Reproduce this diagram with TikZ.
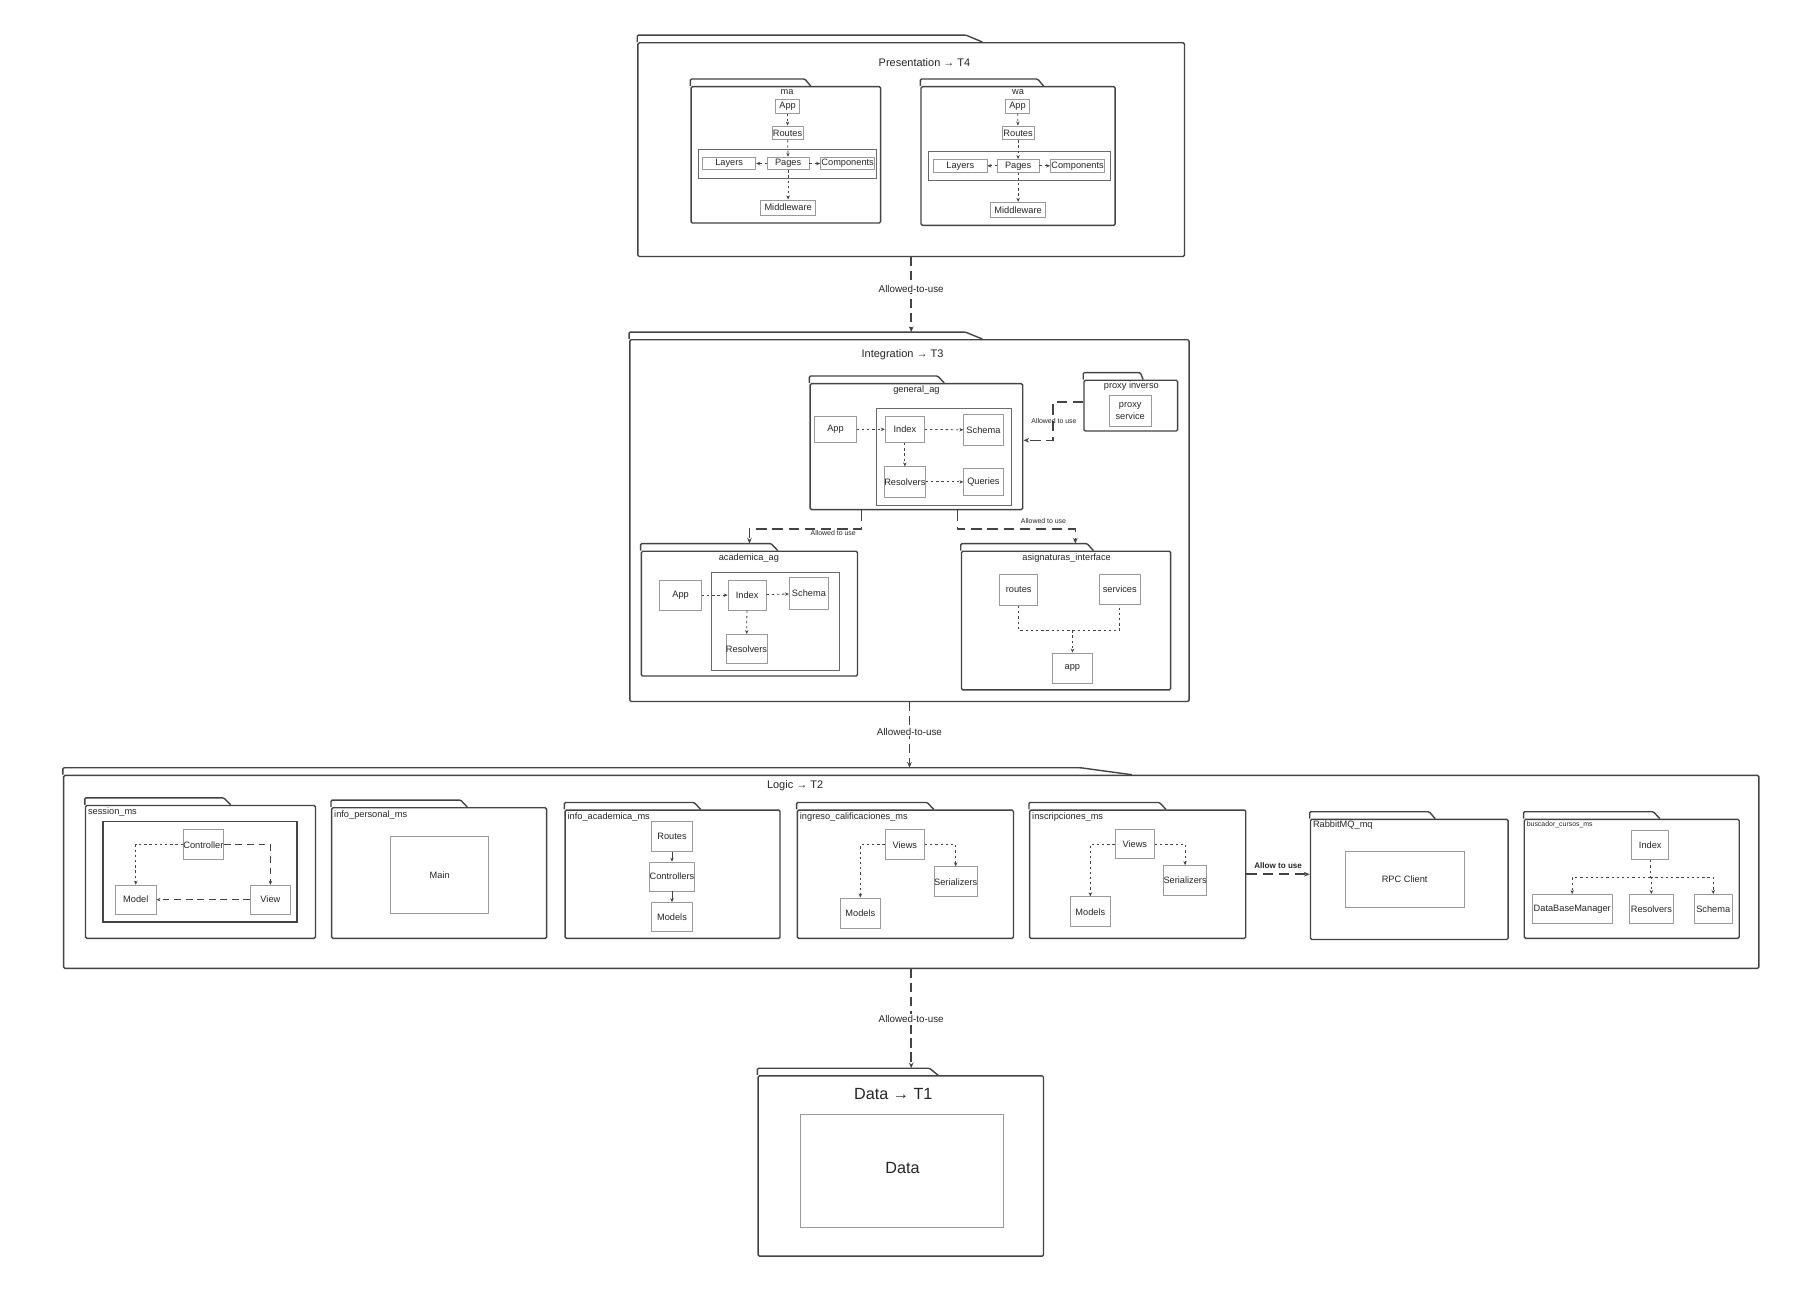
\documentclass[tikz,border=0pt]{standalone}
\usepackage{fontspec}
\setmainfont{Liberation Sans}
\usetikzlibrary{arrows.meta,calc}
\definecolor{ln}{HTML}{444444}
\definecolor{bxc}{HTML}{9A9A9A}
\definecolor{tx}{HTML}{262626}
\newcommand\fs[1]{\fontsize{#1}{#1}\selectfont}
\newcommand\nb[6]{\node[#1, minimum width={(#5)-(#3)}, minimum height={(#6)-(#4)}] (#2) at ({((#3)+(#5))/2},{((#4)+(#6))/2})}
\newcommand\ptab[1]{\draw[pkgline] (#1.north west) -- ++(0pt,6pt) -- ($(#1.north west)!0.6!(#1.north east)+(0pt,6pt)$) -- ($(#1.north west)!0.63!(#1.north east)$);
  \coordinate (#1tt) at ($(#1.north)+(0pt,6pt)$);}
\tikzset{
  pkg/.style={draw=ln, line width=1.2pt, rounded corners=1.2pt, inner sep=0pt},
  pkgline/.style={draw=ln, line width=1.2pt, rounded corners=1pt},
  ibox/.style={draw=bxc, line width=0.7pt, inner sep=0pt, text=tx, font=\fs{8}},
  grp/.style={draw=ln!80, line width=0.7pt, inner sep=0pt},
  grpframe/.style={draw=ln, line width=1.4pt, inner sep=0pt},
  ttl/.style={text=tx, font=\fs{9.5}, inner sep=0pt},
  plab/.style={text=tx, font=\fs{8}, inner sep=0pt},
  plabl/.style={text=tx, font=\fs{8}, inner sep=0pt, anchor=west},
  lay/.style={draw=ln, line width=1.3pt, dash pattern=on 8pt off 4pt, -{Stealth[length=5pt,width=4pt]}},
  usear/.style={draw=ln, line width=1.3pt, dash pattern=on 9pt off 5pt, -{Stealth[length=5pt,width=4pt]}},
  dotar/.style={draw=ln, line width=0.7pt, dash pattern=on 2pt off 2.5pt, -{Stealth[length=3.5pt,width=3pt]}},
  dotln/.style={draw=ln, line width=0.7pt, dash pattern=on 2pt off 2.5pt},
  dashar/.style={draw=ln, line width=0.8pt, dash pattern=on 6pt off 4pt, -{Stealth[length=3.5pt,width=3pt]}},
  solar/.style={draw=ln, line width=0.7pt, -{Stealth[length=3.5pt,width=3pt]}},
  lablay/.style={text=tx, font=\fs{8.5}, fill=white, inner sep=1pt},
  slab/.style={text=tx, font=\fs{6}, inner sep=0.5pt},
}
\begin{document}
\begin{tikzpicture}[x=1pt,y=-1pt]
\useasboundingbox[fill=white] (0,0) rectangle (1568,1118);

% ===== Presentation =====
\nb{pkg}{pres}{552}{37}{1025}{222}{};
\ptab{pres}
\node[ttl] (presT) at (800,54) {Presentation → T4};

% ma
\nb{pkg}{ma}{598}{75}{762}{193}{};
\ptab{ma}
\node[plab] (maL) at (681,80) {ma};
\nb{grp}{maG}{604}{129}{758}{154}{};
\nb{ibox}{maApp}{671}{86}{692}{98}{App};
\nb{ibox}{maRoutes}{668}{109}{695}{121}{Routes};
\nb{ibox}{maLayers}{608}{136}{654}{147}{Layers};
\nb{ibox}{maPages}{664}{136}{700}{147}{Pages};
\nb{ibox}{maComp}{710}{136}{757}{147}{Components};
\nb{ibox}{maMid}{658}{173}{706}{186}{Middleware};
\draw[dotar] (maApp) -- (maRoutes);
\draw[dotar] (maRoutes) -- (maPages);
\draw[dotar] (maPages) -- (maLayers);
\draw[dotar] (maPages) -- (maComp);
\draw[dotar] (maPages) -- (maMid);

% wa
\nb{pkg}{wa}{797}{75}{965}{195}{};
\ptab{wa}
\node[plab] (waL) at (881,80) {wa};
\nb{grp}{waG}{803}{131}{961}{156}{};
\nb{ibox}{waApp}{870}{86}{891}{98}{App};
\nb{ibox}{waRoutes}{867}{109}{895}{121}{Routes};
\nb{ibox}{waLayers}{808}{138}{854}{149}{Layers};
\nb{ibox}{waPages}{863}{138}{899}{149}{Pages};
\nb{ibox}{waComp}{909}{138}{956}{149}{Components};
\nb{ibox}{waMid}{857}{175}{905}{188}{Middleware};
\draw[dotar] (waApp) -- (waRoutes);
\draw[dotar] (waRoutes) -- (waPages);
\draw[dotar] (waPages) -- (waLayers);
\draw[dotar] (waPages) -- (waComp);
\draw[dotar] (waPages) -- (waMid);

% ===== Integration =====
\nb{pkg}{integ}{545}{294}{1029}{607}{};
\ptab{integ}
\node[ttl] (integT) at (781,307) {Integration → T3};

% general_ag
\nb{pkg}{gen}{701}{332}{885}{441}{};
\ptab{gen}
\node[plab] (genL) at (793,338) {general\_ag};
\nb{grp}{genG}{758}{353}{875}{437}{};
\nb{ibox}{gApp}{705}{360}{741}{383}{App};
\nb{ibox}{gIdx}{766}{360}{800}{383}{Index};
\nb{ibox}{gSch}{834}{359}{868}{385}{Schema};
\nb{ibox}{gRes}{766}{404}{800}{430}{Resolvers};
\nb{ibox}{gQue}{834}{405}{868}{429}{Queries};
\draw[dotar] (gApp) -- (gIdx);
\draw[dotar] (gIdx) -- (gSch);
\draw[dotar] (gIdx) -- (gRes);
\draw[dotar] (gRes) -- (gQue);

% proxy inverso
\nb{pkg}{prox}{938}{329}{1019}{373}{};
\ptab{prox}
\node[plab] (proxL) at (979,334) {proxy inverso};
\nb{ibox}{pSrv}{960}{342}{996}{369}{};
\node[text=tx, font=\fontsize{8}{10}\selectfont, align=center, inner sep=0pt] (pSrvT) at (pSrv) {proxy\\service};

% academica_ag
\nb{pkg}{aca}{555}{477}{742}{585}{};
\ptab{aca}
\node[plab] (acaL) at (648,483) {academica\_ag};
\nb{grp}{acaG}{616}{495}{726}{580}{};
\nb{ibox}{aApp}{571}{502}{607}{528}{App};
\nb{ibox}{aIdx}{630}{502}{663}{528}{Index};
\nb{ibox}{aSch}{683}{500}{717}{527}{Schema};
\nb{ibox}{aRes}{629}{549}{663}{574}{Resolvers};
\draw[dotar] (aApp) -- (aIdx);
\draw[dotar] (aIdx) -- (aSch);
\draw[dotar] (aIdx) -- (aRes);

% asignaturas_interface
\nb{pkg}{asig}{832}{477}{1013}{597}{};
\ptab{asig}
\node[plab] (asigL) at (923,483) {asignaturas\_interface};
\nb{ibox}{sRoutes}{865}{497}{898}{524}{routes};
\nb{ibox}{sServ}{951}{497}{987}{523}{services};
\nb{ibox}{sApp}{911}{565}{945}{591}{app};
\draw[dotln] (sRoutes.south) -- ++(0pt,-21pt) coordinate (sj) -| (sServ.south);
\draw[dotar] (sj -| sApp.north) -- (sApp.north);

% integration connectors
\draw[usear] ([yshift=3pt]prox.west) -- ++(-26pt,0pt) |- ([yshift=5.5pt]gen.east);
\node[slab] (pxL) at (912,364) {Allowed to use};
\draw[usear] ([xshift=45pt]gen.south west) -- ++(0pt,-16pt) -| (acatt);
\node[slab] (gaL) at (721,461) {Allowed to use};
\draw[usear] ([xshift=128pt]gen.south west) -- ++(0pt,-16pt) -| ([xshift=8pt]asigtt);
\node[slab] (gsL) at (903,451) {Allowed to use};

% ===== Logic =====
\nb{pkg}{logic}{55}{671}{1522}{838}{};
\ptab{logic}
\node[ttl] (logicT) at (688,680) {Logic → T2};

% session_ms
\nb{pkg}{sess}{74}{697}{273}{812}{};
\ptab{sess}
\node[plabl] (sessL) at (76,703) {session\_ms};
\nb{grpframe}{sessG}{89}{711}{257}{798}{};
\nb{ibox}{sCtrl}{159}{718}{193}{744}{Controller};
\nb{ibox}{sModel}{100}{766}{135}{791}{Model};
\nb{ibox}{sView}{217}{766}{251}{791}{View};
\draw[dotar] (sCtrl.west) -| (sModel.north);
\draw[dashar] (sCtrl.east) -| (sView.north);
\draw[dashar] (sView.west) -- (sModel.east);

% info_personal_ms
\nb{pkg}{ipers}{287}{699}{473}{812}{};
\ptab{ipers}
\node[plabl] (ipersL) at (289,705) {info\_personal\_ms};
\nb{ibox}{ipMain}{338}{724}{423}{790}{Main};

% info_academica_ms
\nb{pkg}{iacad}{489}{701}{675}{812}{};
\ptab{iacad}
\node[plabl] (iacadL) at (491,707) {info\_academica\_ms};
\nb{ibox}{iaRoutes}{564}{711}{599}{737}{Routes};
\nb{ibox}{iaCtrl}{564}{746}{599}{771}{Controllers};
\nb{ibox}{iaModels}{564}{781}{599}{806}{Models};
\draw[solar] (iaRoutes) -- (iaCtrl);
\draw[solar] (iaCtrl) -- (iaModels);

% ingreso_calificaciones_ms
\nb{pkg}{ingr}{690}{701}{877}{812}{};
\ptab{ingr}
\node[plabl] (ingrL) at (692,707) {ingreso\_calificaciones\_ms};
\nb{ibox}{igViews}{766}{718}{800}{744}{Views};
\nb{ibox}{igSer}{809}{750}{845}{776}{Serializers};
\nb{ibox}{igModels}{727}{777}{762}{803}{Models};
\draw[dotar] (igViews.west) -| (igModels.north);
\draw[dotar] (igViews.east) -| (igSer.north);

% inscripciones_ms
\nb{pkg}{insc}{891}{701}{1078}{812}{};
\ptab{insc}
\node[plabl] (inscL) at (893,707) {inscripciones\_ms};
\nb{ibox}{isViews}{965}{718}{999}{743}{Views};
\nb{ibox}{isSer}{1008}{749}{1043}{775}{Serializers};
\nb{ibox}{isModels}{926}{776}{961}{802}{Models};
\draw[dotar] (isViews.west) -| (isModels.north);
\draw[dotar] (isViews.east) -| (isSer.north);

% RabbitMQ_mq
\nb{pkg}{rab}{1134}{709}{1305}{813}{};
\ptab{rab}
\node[plabl] (rabL) at (1136,714) {RabbitMQ\_mq};
\nb{ibox}{rpc}{1164}{737}{1267}{785}{RPC Client};
\draw[usear] (insc.east) -- (insc.east -| rab.west);
\node[text=tx, font=\bfseries\fs{7}, inner sep=0pt] (allowL) at (1106,749) {Allow to use};

% buscador_cursos_ms
\nb{pkg}{busc}{1319}{709}{1505}{812}{};
\ptab{busc}
\node[plabl, font=\fs{6}] (buscL) at (1321,714) {buscador\_cursos\_ms};
\nb{ibox}{bIdx}{1412}{719}{1444}{744}{Index};
\nb{ibox}{bDB}{1326}{774}{1395}{799}{DataBaseManager};
\nb{ibox}{bRes}{1410}{774}{1448}{799}{Resolvers};
\nb{ibox}{bSch}{1466}{774}{1499}{799}{Schema};
\draw[dotln] (bIdx.south) -- ++(0pt,-15pt) coordinate (bj);
\draw[dotar] (bj) -| (bDB.north);
\draw[dotar] (bj) -| (bSch.north);
\draw[dotar] (bj) -- (bj -| bRes.north) -- (bRes.north);

% ===== Data =====
\nb{pkg}{data}{656}{931}{903}{1087}{};
\ptab{data}
\node[ttl, font=\fs{14}] (dataT) at (773,947) {Data → T1};
\nb{ibox}{dataIn}{693}{964}{868}{1062}{};
\node[text=tx, font=\fs{14}, inner sep=0pt] (dataInT) at (781,1011) {Data};

% ===== layer connectors =====
\draw[lay] (pres.south) -- (pres.south |- integtt) node[lablay, pos=0.42] (l1) {Allowed-to-use};
\draw[lay] (integ.south) -- (integ.south |- logictt) node[lablay, pos=0.45] (l2) {Allowed-to-use};
\draw[lay] (logic.south) -- (logic.south |- datatt) node[lablay, pos=0.5] (l3) {Allowed-to-use};
\end{tikzpicture}
\end{document}
